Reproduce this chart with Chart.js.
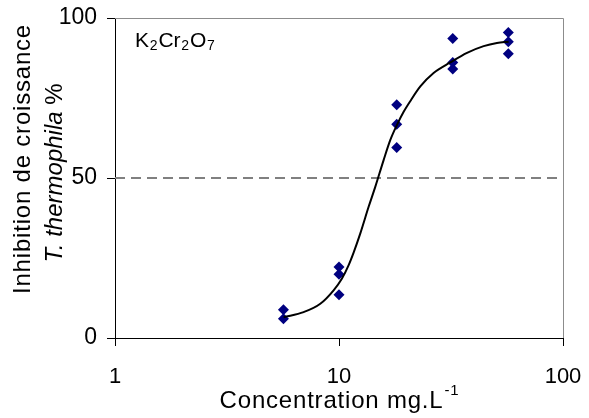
<!DOCTYPE html>
<html><head><meta charset="utf-8">
<script src="https://cdn.jsdelivr.net/npm/chart.js@4"></script>
<style>html,body{margin:0;padding:0;background:#fff;overflow:hidden}canvas{display:block}</style>
</head><body><canvas id="c" width="589" height="418" style="width:589px;height:418px"></canvas>
<script>
// ---- data ----
const concentrations = [5.65, 5.65, 10, 10, 10, 18.1, 18.1, 18.1, 32.2, 32.2, 32.2, 57, 57, 57];
const inhibition     = [8.8, 6.0, 22.2, 19.9, 13.5, 72.9, 66.8, 59.5, 93.6, 86.1, 84.1, 95.5, 92.6, 88.8];
const fitConc        = [5.66, 6.95, 8.25, 9.46, 10.31, 11.03, 11.62, 12.45, 13.56, 14.53, 15.82, 16.95, 18.15, 19.41, 20.8, 23.07, 26.44, 31.39, 37.28, 44.23, 50.7, 57.2];
const fitInhibition  = [6.5, 8.1, 10.7, 14.9, 18.6, 22.7, 26.7, 32.7, 41.0, 47.3, 55.6, 61.9, 66.6, 70.6, 74.0, 78.6, 82.8, 86.1, 89.1, 91.2, 92.2, 92.6];
const thresholdX     = [1, 100];
const thresholdY     = [50, 50];
const xTickValues    = [1, 10, 100];
const yTickValues    = [0, 50, 100];
const yTitleLine1    = 'Inhibition de croissance';
const yTitleLine2a   = 'T. thermophila';
const yTitleLine2b   = ' %';
const xTitleMain     = 'Concentration mg.L';
const xTitleSup      = '-1';
const compound       = [['K', false], ['2', true], ['Cr', false], ['2', true], ['O', false], ['7', true]];

const FONT = '"Liberation Sans", Arial, sans-serif';

function noOverflow(scale) {
  scale.paddingLeft = 0; scale.paddingRight = 0;
  scale.paddingTop = 0; scale.paddingBottom = 0;
}

const textPlugin = {
  id: 'texts',
  beforeDatasetsDraw(chart) {
    const {ctx, chartArea: a} = chart;
    ctx.save();
    ctx.strokeStyle = '#8c8c8c';
    ctx.lineWidth = 1;
    ctx.beginPath();
    ctx.moveTo(a.left, a.top + 0.5);
    ctx.lineTo(a.right + 0.5, a.top + 0.5);
    ctx.lineTo(a.right + 0.5, a.bottom);
    ctx.stroke();
    ctx.restore();
  },
  afterDraw(chart) {
    const {ctx, chartArea: a} = chart;
    ctx.save();
    ctx.fillStyle = '#000';
    ctx.textBaseline = 'alphabetic';
    ctx.save();
    ctx.translate(30, 159);
    ctx.rotate(-Math.PI / 2);
    ctx.font = '24px ' + FONT;
    try { ctx.letterSpacing = '0.8px'; } catch (e) {}
    ctx.textAlign = 'center';
    ctx.fillText(yTitleLine1, 0, 0);
    ctx.restore();
    ctx.save();
    ctx.translate(62, 173);
    ctx.rotate(-Math.PI / 2);
    ctx.textAlign = 'left';
    ctx.font = 'italic 24px ' + FONT;
    const w1 = ctx.measureText(yTitleLine2a).width;
    ctx.font = '24px ' + FONT;
    const w2 = ctx.measureText(yTitleLine2b).width;
    let x0 = -(w1 + w2) / 2;
    ctx.font = 'italic 24px ' + FONT;
    ctx.fillText(yTitleLine2a, x0, 0);
    ctx.font = '24px ' + FONT;
    ctx.fillText(yTitleLine2b, x0 + w1, 0);
    ctx.restore();
    ctx.save();
    try { ctx.letterSpacing = '0.8px'; } catch (e) {}
    ctx.font = '24px ' + FONT;
    const wm = ctx.measureText(xTitleMain).width;
    ctx.font = '15px ' + FONT;
    const ws = ctx.measureText(xTitleSup).width;
    const cx = (a.left + a.right) / 2;
    let sx = cx - (wm + ws) / 2;
    ctx.textAlign = 'left';
    ctx.font = '24px ' + FONT;
    ctx.fillText(xTitleMain, sx, 408);
    ctx.font = '15px ' + FONT;
    ctx.fillText(xTitleSup, sx + wm + 1, 395);
    ctx.restore();
    ctx.save();
    ctx.textAlign = 'left';
    let px = 135;
    for (const [t, sub] of compound) {
      ctx.font = (sub ? '14px ' : '21px ') + FONT;
      ctx.fillText(t, px, sub ? 50 : 47);
      px += ctx.measureText(t).width + 0.8;
    }
    ctx.restore();
    ctx.restore();
  }
};

new Chart(document.getElementById('c'), {
  type: 'scatter',
  data: {
    datasets: [
      {
        label: 'fit',
        data: fitConc.map((x, i) => ({x, y: fitInhibition[i]})),
        showLine: true,
        borderColor: '#000',
        borderWidth: 2,
        pointRadius: 0,
        cubicInterpolationMode: 'monotone',
        order: 0
      },
      {
        label: 'mesures',
        data: concentrations.map((x, i) => ({x, y: inhibition[i]})),
        pointStyle: 'rectRot',
        pointRadius: 5.5,
        pointBackgroundColor: '#000080',
        pointBorderColor: '#000080',
        pointBorderWidth: 0,
        showLine: false,
        order: 1
      },
      {
        label: '50%',
        data: thresholdX.map((x, i) => ({x, y: thresholdY[i]})),
        showLine: true,
        borderColor: '#808080',
        borderWidth: 2,
        borderDash: [10, 6],
        pointRadius: 0,
        order: 2
      }
    ]
  },
  options: {
    responsive: false,
    maintainAspectRatio: false,
    animation: false,
    devicePixelRatio: 1,
    layout: {autoPadding: false, padding: {left: 0, top: 18, right: 26, bottom: 0}},
    plugins: {legend: {display: false}, tooltip: {enabled: false}},
    scales: {
      x: {
        type: 'logarithmic',
        min: 1, max: 100,
        afterBuildTicks(scale) { scale.ticks = xTickValues.map(v => ({value: v})); },
        afterFit(scale) { scale.height = 80; noOverflow(scale); },
        ticks: {
          font: {size: 22, family: FONT},
          color: '#000',
          padding: 18,
          autoSkip: false,
          maxRotation: 0,
          callback: (v) => String(v)
        },
        grid: {drawOnChartArea: false, drawTicks: true, tickLength: 8, color: '#000', tickColor: '#000'},
        border: {display: true, color: '#000', width: 1}
      },
      y: {
        type: 'linear',
        min: 0, max: 100,
        afterBuildTicks(scale) { scale.ticks = yTickValues.map(v => ({value: v})); },
        afterFit(scale) { scale.width = 115; noOverflow(scale); },
        ticks: {
          font: {size: 23, family: FONT},
          color: '#000',
          padding: 10,
          callback: (v) => String(v)
        },
        grid: {drawOnChartArea: false, drawTicks: true, tickLength: 8, color: '#000', tickColor: '#000'},
        border: {display: true, color: '#000', width: 1}
      }
    }
  },
  plugins: [textPlugin]
});
</script>
</body></html>
